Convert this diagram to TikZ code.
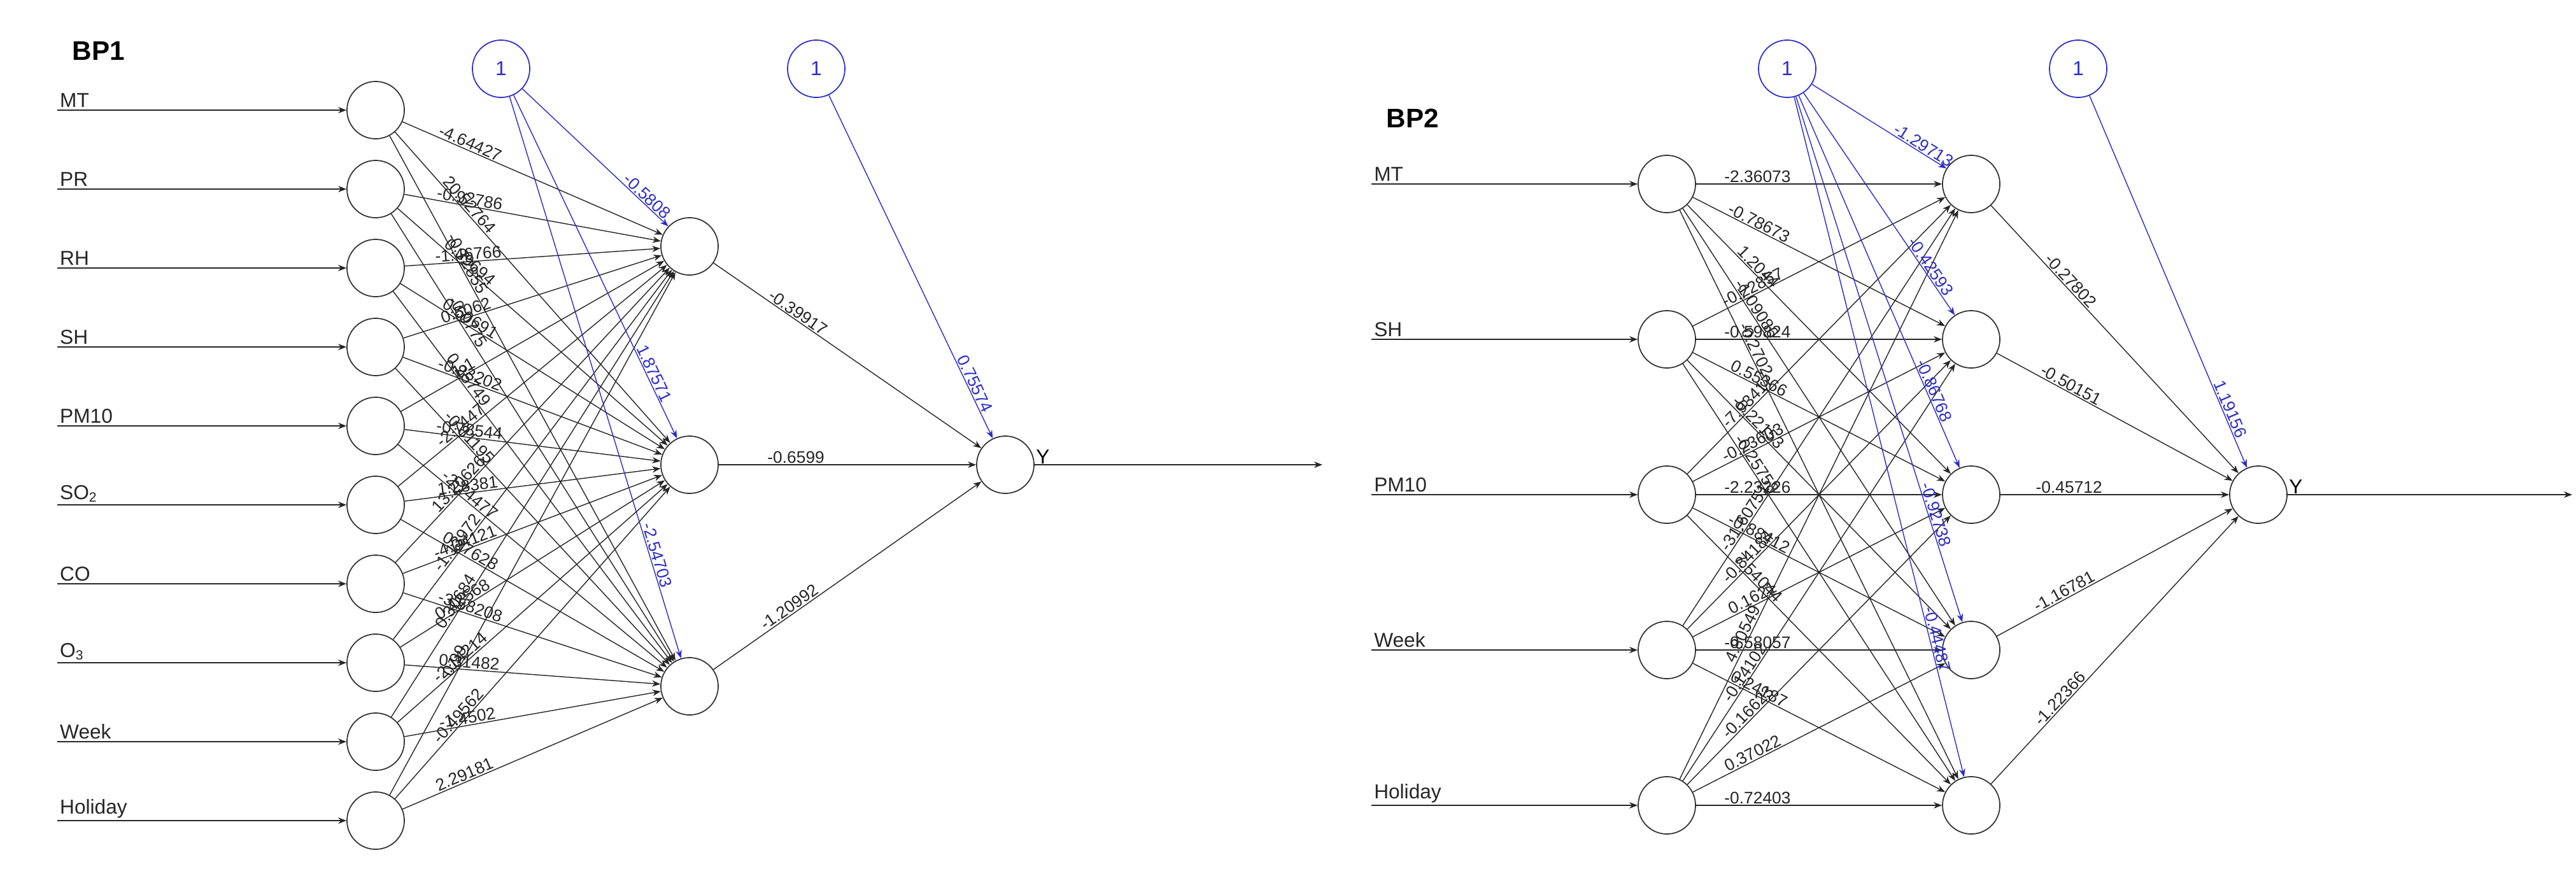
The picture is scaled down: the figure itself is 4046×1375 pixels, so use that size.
\documentclass[tikz,border=0pt]{standalone}
\usepackage{fontspec}
\setmainfont{Liberation Sans}
\usetikzlibrary{arrows.meta}
\definecolor{biasblue}{RGB}{45,45,200}
\tikzset{
  neuron/.style={circle, draw=black!80, line width=0.5pt, minimum size=0.9cm, inner sep=0pt},
  bias/.style={neuron, draw=biasblue, text=biasblue, font=\fontsize{9}{10}\selectfont},
  wire/.style={-{Stealth[length=1.3mm,width=1mm]}, line width=0.4pt, black!85},
  bwire/.style={wire, biasblue},
  wlab/.style={sloped, above, inner sep=0.5pt, font=\fontsize{7.5}{8}\selectfont},
  inlab/.style={above right, inner sep=1pt, font=\fontsize{9}{10}\selectfont},
  title/.style={font=\bfseries\fontsize{12}{14}\selectfont}
}
\begin{document}
\begin{tikzpicture}[x=0.01cm, y=-0.01cm]
    \useasboundingbox (0,0) rectangle (4046,1375);

    % ---------------- BP1 ----------------
    \node[title] at (155,80) {BP1};

    % Input layer
    \foreach \n/\t [count=\i] in {MT/MT, PR/PR, RH/RH, SH/SH, PM10/PM10,
        SO2/SO\textsubscript{2}, CO/CO, O3/O\textsubscript{3}, Week/Week, Holiday/Holiday} {
      \node[neuron] (a-i\i) at (590,{173+124*(\i-1)}) {};
      \coordinate (a-s\i) at (90,{173+124*(\i-1)});
      \draw[wire] (a-s\i) -- (a-i\i) node[pos=0, inlab] {\t};
    }

    % Hidden layer, output and bias nodes
    \node[neuron] (a-h1) at (1083,387) {};
    \node[neuron] (a-h2) at (1083,730) {};
    \node[neuron] (a-h3) at (1083,1078) {};
    \node[bias] (a-b1) at (787,108) {1};
    \node[bias] (a-b2) at (1282,108) {1};
    \node[neuron] (a-y) at (1579,730) {};
    \node[right, font=\fontsize{9}{10}\selectfont] at (1615,718) {Y};
    \coordinate (a-out) at (2077,730);
    \draw[wire] (a-y) -- (a-out);

    % Input -> hidden weights
    \foreach \i/\wA/\wB/\wC in {1/-4.64427/20.52764/-0.72855, 2/-0.92786/0.39694/-0.0775,
        3/-1.46766/0.50691/0.25749, 4/0.5062/-0.83202/-0.81195, 5/1.1/-0.78544/-2.74477,
        6/-2.7447/1.28381/0.87628, 7/13.20626/-4.04121/-3.58208, 8/-1.13972/0.42568/0.31482,
        9/0.30684/-2.14214/-1.4502, 10/0.99/-0.49562/2.29181} {
      \draw[wire] (a-i\i) -- (a-h1) node[wlab, pos=0.25] {\wA};
      \draw[wire] (a-i\i) -- (a-h2) node[wlab, pos=0.25] {\wB};
      \draw[wire] (a-i\i) -- (a-h3) node[wlab, pos=0.25] {\wC};
    }

    % Hidden -> output and bias weights
    \foreach \j/\w/\b in {1/-0.39917/-0.5808, 2/-0.6599/1.87571, 3/-1.20992/-2.54703} {
      \draw[wire] (a-h\j) -- (a-y) node[wlab, pos=0.3] {\w};
      \draw[bwire] (a-b1) -- (a-h\j) node[wlab, pos=0.82, text=biasblue] {\b};
    }
    \draw[bwire] (a-b2) -- (a-y) node[wlab, pos=0.85, text=biasblue] {0.75574};

    % ---------------- BP2 ----------------
    \node[title] at (2219,186) {BP2};

    % Input layer
    \foreach \t [count=\i] in {MT, SH, PM10, Week, Holiday} {
      \node[neuron] (b-i\i) at (2618,{289+244*(\i-1)}) {};
      \coordinate (b-s\i) at (2154,{289+244*(\i-1)});
      \draw[wire] (b-s\i) -- (b-i\i) node[pos=0, inlab] {\t};
    }

    % Hidden layer, output and bias nodes
    \foreach \j in {1,...,5} {
      \node[neuron] (b-h\j) at (3096,{289+244*(\j-1)}) {};
    }
    \node[bias] (b-b1) at (2807,108) {1};
    \node[bias] (b-b2) at (3264,108) {1};
    \node[neuron] (b-y) at (3547,777) {};
    \node[right, font=\fontsize{9}{10}\selectfont] at (3583,765) {Y};
    \coordinate (b-out) at (4040,777);
    \draw[wire] (b-y) -- (b-out);

    % Input -> hidden weights
    \foreach \i/\wA/\wB/\wC/\wD/\wE in {1/-2.36073/-0.78673/1.2044/-1.09086/-0.2702,
        2/-0.22857/-0.59824/0.55366/-0.22153/-0.25758,
        3/-7.93417/-0.23603/-2.23226/-0.88412/7.54044,
        4/-31.60751/-0.84184/0.1621/-0.58057/0.24187,
        5/4.80549/-0.14102/-0.16623/0.37022/-0.72403} {
      \draw[wire] (b-i\i) -- (b-h1) node[wlab, pos=0.25] {\wA};
      \draw[wire] (b-i\i) -- (b-h2) node[wlab, pos=0.25] {\wB};
      \draw[wire] (b-i\i) -- (b-h3) node[wlab, pos=0.25] {\wC};
      \draw[wire] (b-i\i) -- (b-h4) node[wlab, pos=0.25] {\wD};
      \draw[wire] (b-i\i) -- (b-h5) node[wlab, pos=0.25] {\wE};
    }

    % Hidden -> output and bias weights
    \foreach \j/\w/\b in {1/-0.27802/-1.29713, 2/-0.50151/-0.42593, 3/-0.45712/-0.86768,
        4/-1.16781/-0.92738, 5/-1.22366/-0.44487} {
      \draw[wire] (b-h\j) -- (b-y) node[wlab, pos=0.3] {\w};
      \draw[bwire] (b-b1) -- (b-h\j) node[wlab, pos=0.8, text=biasblue] {\b};
    }
    \draw[bwire] (b-b2) -- (b-y) node[wlab, pos=0.85, text=biasblue] {1.19156};
\end{tikzpicture}
\end{document}
